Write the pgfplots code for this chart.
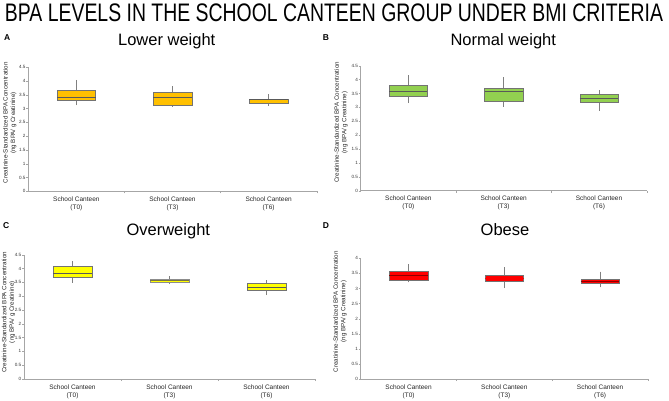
\documentclass[border=0pt]{standalone}
\usepackage{pgfplots}
\pgfplotsset{compat=1.18}
\usepgfplotslibrary{statistics}
\usepackage{fontspec}
\setmainfont{Liberation Sans}
\usepackage{graphicx}
\definecolor{cA}{HTML}{FFC000}
\definecolor{cB}{HTML}{92D050}
\definecolor{cC}{HTML}{FFFF00}
\definecolor{cD}{HTML}{FF0000}
\pgfplotsset{
  panel/.style={
    scale only axis, xmin=-0.5, xmax=2.5, ymin=0,
    axis x line=bottom, axis y line=left,
    axis line style={-, draw=gray!70, line width=0.5pt},
    xtick={0,1,2},
    xticklabels={{School Canteen\\(T0)},{School Canteen\\(T3)},{School Canteen\\(T6)}},
    xticklabel style={align=center, font=\fontsize{6.5}{7.8}\selectfont, text=black!85},
    major x tick style={draw=none},
    extra x ticks={0.5,1.5,2.5}, extra x tick labels={},
    extra x tick style={major x tick style={draw=gray!70}},
    ytick distance=0.5,
    yticklabel style={font=\fontsize{4.6}{5}\selectfont, text=black!80, inner sep=0.6pt},
    /pgf/number format/assume math mode=true,
    tick align=outside, major tick length=2pt,
    y tick style={draw=gray!70},
    ylabel={Creatinine-Standardized BPA Concentration\\(ng BPA/ g Creatinine)},
    ylabel style={align=center, font=\fontsize{6.2}{7.4}\selectfont, anchor=center, text=black!85},
    clip=false,
    boxplot/draw direction=y,
    boxplot/box extend=0.4,
    boxplot/whisker extend=0,
    boxplot/every whisker/.style={draw=black!50, line width=0.45pt},
  }
}
\begin{document}
\begin{tikzpicture}
\useasboundingbox (0,0) rectangle (669pt,-400pt);
% main title
\node[anchor=base, inner sep=0pt] at (334pt,-21.7pt) {\resizebox{658pt}{17.7pt}{BPA LEVELS IN THE SCHOOL CANTEEN GROUP UNDER BMI CRITERIA}};
% panel letters
\node[anchor=base west, inner sep=0pt, font=\fontsize{8.5}{9}\selectfont\bfseries] at (4pt,-40pt) {A};
\node[anchor=base west, inner sep=0pt, font=\fontsize{8.5}{9}\selectfont\bfseries] at (322.7pt,-40pt) {B};
\node[anchor=base west, inner sep=0pt, font=\fontsize{8.5}{9}\selectfont\bfseries] at (3pt,-228.3pt) {C};
\node[anchor=base west, inner sep=0pt, font=\fontsize{8.5}{9}\selectfont\bfseries] at (322.7pt,-228.3pt) {D};
% panel titles
\node[anchor=base, inner sep=0pt, font=\fontsize{16.5}{18}\selectfont] at (166.7pt,-45.7pt) {Lower weight};
\node[anchor=base, inner sep=0pt, font=\fontsize{16.5}{18}\selectfont] at (503.3pt,-45.7pt) {Normal weight};
\node[anchor=base, inner sep=0pt, font=\fontsize{16.5}{18}\selectfont] at (168.3pt,-235.7pt) {Overweight};
\node[anchor=base, inner sep=0pt, font=\fontsize{16.5}{18}\selectfont] at (505pt,-235.7pt) {Obese};

% Panel A
\begin{axis}[panel, at={(28.3pt,-191.3pt)}, anchor=south west, width=288.4pt, height=124.3pt, ymax=4.5,
  ylabel style={at={(axis description cs:-0.064,0.55)}}]
\addplot[fill=cA, draw=black!55, line width=0.45pt, boxplot/every median/.style={draw=black!65, line width=0.6pt},
  boxplot prepared={draw position=0, lower whisker=3.11, lower quartile=3.29, median=3.39, upper quartile=3.65, upper whisker=4.03}] coordinates {};
\addplot[fill=cA, draw=black!55, line width=0.45pt, boxplot/every median/.style={draw=black!65, line width=0.6pt},
  boxplot prepared={draw position=1, lower whisker=3.06, lower quartile=3.11, median=3.40, upper quartile=3.58, upper whisker=3.81}] coordinates {};
\addplot[fill=cA, draw=black!55, line width=0.45pt, boxplot/every median/.style={draw=black!65, line width=0.6pt},
  boxplot prepared={draw position=2, lower whisker=3.10, lower quartile=3.18, median=3.33, upper quartile=3.35, upper whisker=3.52}] coordinates {};
\end{axis}

% Panel B
\begin{axis}[panel, at={(360.7pt,-190.7pt)}, anchor=south west, width=286pt, height=125pt, ymax=4.5,
  ylabel style={at={(axis description cs:-0.069,0.546)}}]
\addplot[fill=cB, draw=black!55, line width=0.45pt, boxplot/every median/.style={draw=black!65, line width=0.6pt},
  boxplot prepared={draw position=0, lower whisker=3.15, lower quartile=3.40, median=3.58, upper quartile=3.79, upper whisker=4.16}] coordinates {};
\addplot[fill=cB, draw=black!55, line width=0.45pt, boxplot/every median/.style={draw=black!65, line width=0.6pt},
  boxplot prepared={draw position=1, lower whisker=3.03, lower quartile=3.22, median=3.59, upper quartile=3.70, upper whisker=4.09}] coordinates {};
\addplot[fill=cB, draw=black!55, line width=0.45pt, boxplot/every median/.style={draw=black!65, line width=0.6pt},
  boxplot prepared={draw position=2, lower whisker=2.88, lower quartile=3.17, median=3.33, upper quartile=3.47, upper whisker=3.61}] coordinates {};
\end{axis}

% Panel C
\begin{axis}[panel, at={(24pt,-379pt)}, anchor=south west, width=291pt, height=124.3pt, ymax=4.5,
  ylabel style={at={(axis description cs:-0.053,0.537)}}]
\addplot[fill=cC, draw=black!55, line width=0.45pt, boxplot/every median/.style={draw=black!65, line width=0.6pt},
  boxplot prepared={draw position=0, lower whisker=3.49, lower quartile=3.69, median=3.82, upper quartile=4.07, upper whisker=4.27}] coordinates {};
\addplot[fill=cC, draw=black!45, line width=0.35pt, boxplot/every median/.style={draw=yellow!40!black, line width=0.35pt},
  boxplot prepared={draw position=1, lower whisker=3.44, lower quartile=3.49, median=3.57, upper quartile=3.63, upper whisker=3.72}] coordinates {};
\addplot[fill=cC, draw=black!55, line width=0.45pt, boxplot/every median/.style={draw=black!65, line width=0.6pt},
  boxplot prepared={draw position=2, lower whisker=3.03, lower quartile=3.23, median=3.33, upper quartile=3.45, upper whisker=3.57}] coordinates {};
\end{axis}

% Panel D
\begin{axis}[panel, at={(360.7pt,-379pt)}, anchor=south west, width=287.3pt, height=120.7pt, ymax=4,
  ylabel style={at={(axis description cs:-0.072,0.558)}}]
\addplot[fill=cD, draw=black!55, line width=0.45pt, boxplot/every median/.style={draw=red!55!black, line width=0.7pt},
  boxplot prepared={draw position=0, lower whisker=3.20, lower quartile=3.28, median=3.42, upper quartile=3.56, upper whisker=3.80}] coordinates {};
\addplot[fill=cD, draw=black!55, line width=0.45pt, boxplot/every median/.style={draw=cD, line width=0.6pt},
  boxplot prepared={draw position=1, lower whisker=3.01, lower quartile=3.23, median=3.33, upper quartile=3.44, upper whisker=3.70}] coordinates {};
\addplot[fill=cD, draw=black!55, line width=0.45pt, boxplot/every median/.style={draw=red!55!black, line width=0.7pt},
  boxplot prepared={draw position=2, lower whisker=3.04, lower quartile=3.16, median=3.25, upper quartile=3.32, upper whisker=3.56}] coordinates {};
\end{axis}
\end{tikzpicture}
\end{document}
